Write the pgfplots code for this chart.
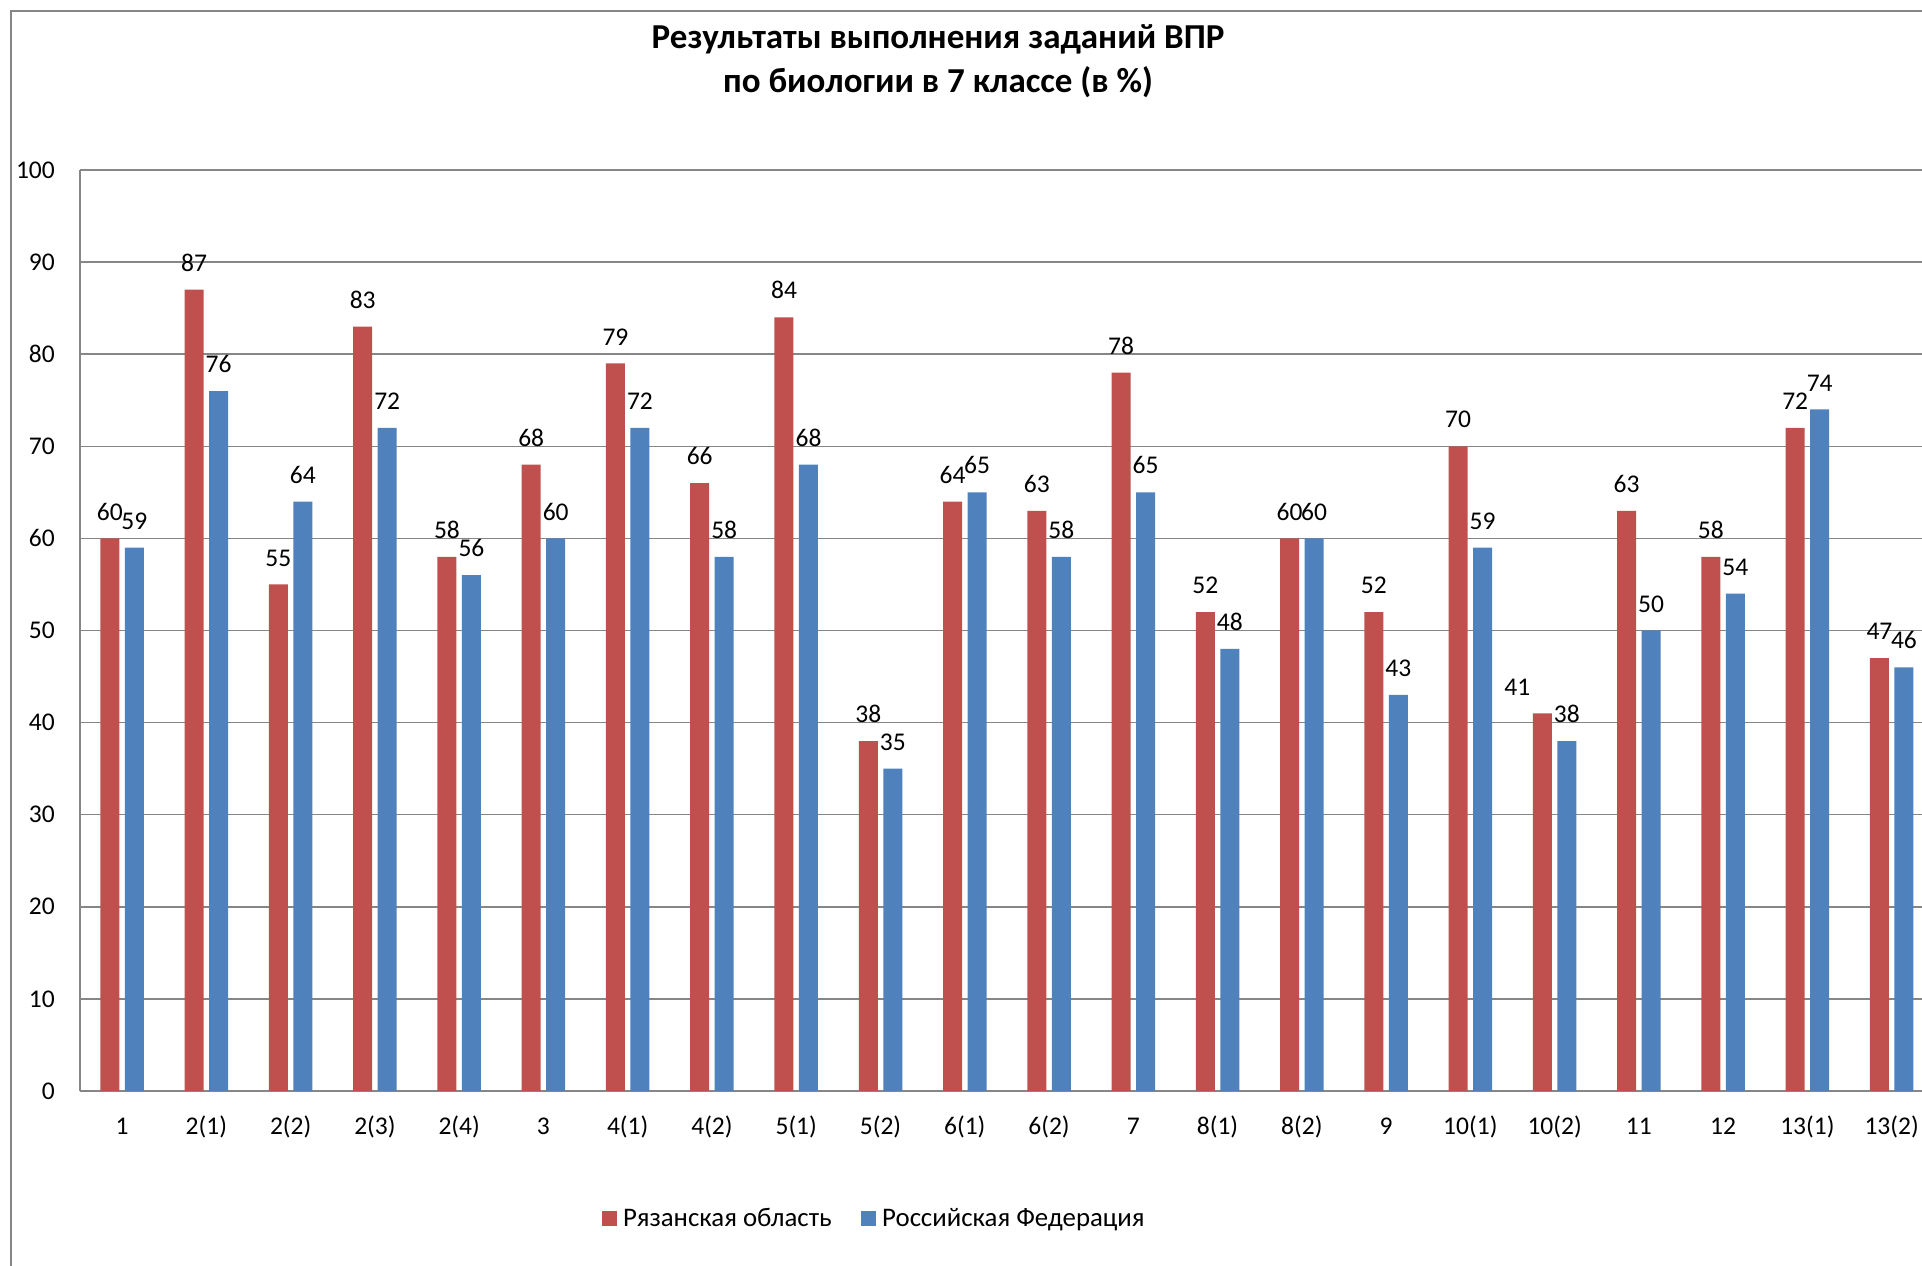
\documentclass[border=0pt]{standalone}
\usepackage{fontspec}
\setmainfont{Carlito}
\usepackage{pgfplots}
\pgfplotsset{compat=1.18}
\usepackage{pgfplotstable}
\definecolor{cred}{HTML}{C0504D}
\definecolor{cblue}{HTML}{4F81BD}
\definecolor{cgrid}{HTML}{868686}
\newcommand\lbl{\fontsize{25.5}{30}\selectfont}
\newcommand\leg{\fontsize{26.8}{31}\selectfont}
\newcommand\ttl{\fontsize{35}{44}\selectfont\bfseries}
\pgfplotstableread{
x a b dx
0 60 59 0
1 87 76 0
2 55 64 0
3 83 72 0
4 58 56 0
5 68 60 0
6 79 72 0
7 66 58 0
8 84 68 0
9 38 35 0
10 64 65 0
11 63 58 0
12 78 65 0
13 52 48 0
14 60 60 0
15 52 43 0
16 70 59 0
17 41 38 -25
18 63 50 0
19 58 54 0
20 72 74 0
21 47 46 0
}\data
\begin{document}
\begin{tikzpicture}
\useasboundingbox (0,0) rectangle (1922pt,1266pt);
\fill[white] (0,0) rectangle (1922pt,1266pt);
\draw[cgrid, line width=1.5pt] (11pt,-5pt) -- (11pt,1255pt) -- (1930pt,1255pt);
\begin{axis}[
  at={(80pt,175pt)}, anchor=south west,
  scale only axis, width=1842pt, height=921pt,
  xmin=-0.5, xmax=21.36, ymin=0, ymax=100,
  ytick={0,10,...,100},
  xtick={0,...,21},
  xticklabels={1,2(1),2(2),2(3),2(4),3,4(1),4(2),5(1),5(2),6(1),6(2),7,8(1),8(2),9,10(1),10(2),11,12,13(1),13(2)},
  ymajorgrids, grid style={cgrid, line width=1.5pt},
  axis x line*=bottom, axis y line*=left,
  axis line style={cgrid, line width=1.5pt, -},
  major tick length=0pt,
  /pgf/number format/assume math mode=true,
  ticklabel style={font=\lbl, text=black},
  yticklabel style={anchor=east, inner sep=0pt, xshift=-25pt},
  xticklabel style={anchor=base, inner sep=0pt, yshift=-43pt},
  ybar=5.5pt, bar width=19pt,
  nodes near coords,
  every node near coord/.append style={font=\lbl, text=black, inner sep=0pt, yshift=18pt, anchor=south},
  clip=false,
  title={Результаты выполнения заданий ВПР\\по биологии в 7 классе (в \%)},
  title style={at={(0.4658,1.1113)}, anchor=center, align=center, font=\ttl, inner sep=0pt},
  legend columns=-1,
  legend style={at={(0.2834,-0.1379)}, anchor=west, draw=none, inner sep=0pt, font=\leg,
    nodes={inner sep=0pt},
    /tikz/every even column/.append style={column sep=29.5pt}},
  legend image code/.code={\fill[#1, draw=none] (0pt,-7.5pt) rectangle (15pt,7.5pt); \path (21pt,0pt);},
]
\addplot[fill=cred, draw=none,
  visualization depends on={\thisrow{dx}\as\dx},
  every node near coord/.append style={xshift=\dx pt}] table[x=x, y=a] {\data};
\addplot[fill=cblue, draw=none] table[x=x, y=b] {\data};
\legend{Рязанская область, Российская Федерация}
\end{axis}
\end{tikzpicture}
\end{document}
